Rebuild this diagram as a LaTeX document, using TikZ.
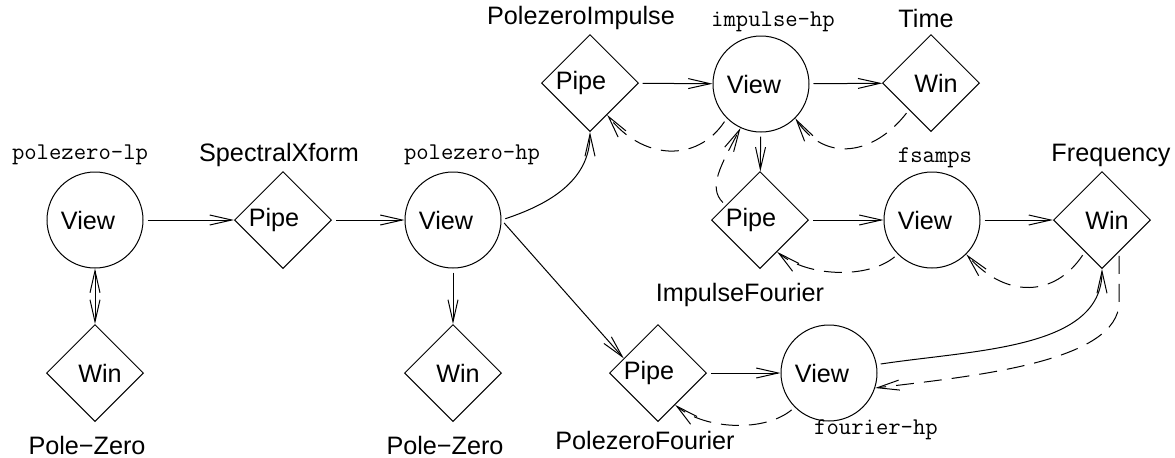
\documentclass[tikz,border=0pt]{standalone}
\usepackage{fontspec}
\setmainfont{Liberation Sans}
\usetikzlibrary{shapes.geometric,arrows.meta,calc}
\tikzset{
  view/.style={circle,draw,minimum size=48pt,inner sep=0pt,font=\fontsize{12.6}{15}\selectfont},
  dia/.style={diamond,draw,minimum width=48.5pt,minimum height=48.5pt,inner sep=0pt,aspect=1,font=\fontsize{12.6}{15}\selectfont},
  lab/.style={inner sep=0pt,font=\fontsize{12.6}{15}\selectfont},
  mlab/.style={inner sep=0pt,font=\ttfamily\fontsize{12}{14}\selectfont},
  conn/.style={-{Straight Barb[length=11pt,width=5pt]},shorten <=2pt},
  bconn/.style={{Straight Barb[length=11pt,width=5pt]}-{Straight Barb[length=11pt,width=5pt]}},
  dconn/.style={conn,dash pattern=on 9pt off 5pt}
}
\newcommand{\pipetxt}{Pipe\hspace*{9pt}}
\newcommand{\viewtxt}{View\hspace*{7pt}}
\newcommand{\wintxt}{\hspace*{5pt}Win}
\begin{document}
\begin{tikzpicture}[x=0.5pt,y=-0.5pt,line width=0.5pt]
\useasboundingbox (0,0) rectangle (1175,457);
% nodes
\node[view] (V1) at (95,220) {\viewtxt};
\node[dia]  (W1) at (95,373) {\wintxt};
\node[dia]  (SX) at (283,220) {\pipetxt};
\node[view] (V2) at (453,220) {\viewtxt};
\node[dia]  (W2) at (453,373) {\wintxt};
\node[dia]  (PI) at (590,83) {\pipetxt};
\node[view] (V3) at (761,84) {\viewtxt};
\node[dia]  (T)  at (931,83) {\wintxt};
\node[dia]  (IF) at (760,220) {\pipetxt};
\node[view] (V4) at (932,220) {\viewtxt};
\node[dia]  (F)  at (1102,220) {\wintxt};
\node[dia]  (PF) at (658,373) {\pipetxt};
\node[view] (V5) at (829,373) {\viewtxt};
% labels
\node[mlab] (l1) at (80,155) {polezero-lp};
\node[lab]  (l2) at (279,155) {SpectralXform};
\node[lab]  (l3) at (87,445) {Pole−Zero};
\node[mlab] (l4) at (472,155) {polezero-hp};
\node[lab]  (l5) at (445,445) {Pole−Zero};
\node[lab]  (l6) at (581,18) {PolezeroImpulse};
\node[mlab] (l7) at (773,22) {impulse-hp};
\node[lab]  (l8) at (926,18) {Time};
\node[mlab] (l9) at (935,158) {fsamps};
\node[lab]  (l10) at (1111,155) {Frequency};
\node[lab]  (l11) at (740,295) {ImpulseFourier};
\node[lab]  (l12) at (645,440) {PolezeroFourier};
\node[mlab] (l13) at (876,430) {fourier-hp};
% helper coordinates
\coordinate (PFa) at ($(PF.west)!0.3!(PF.north)$);
\coordinate (PIa) at ($(PI.south)!0.35!(PI.east)$);
\coordinate (Ta)  at ($(T.west)!0.55!(T.south)$);
\coordinate (IFa) at ($(IF.west)!0.3!(IF.north)$);
\coordinate (IFb) at ($(IF.south)!0.35!(IF.east)$);
\coordinate (Fa)  at ($(F.west)!0.65!(F.south)$);
\coordinate (Fb)  at ($(F.east)!0.65!(F.south)$);
\coordinate (PFb) at ($(PF.south)!0.35!(PF.east)$);
% solid connectors
\draw[conn] (V1) -- (SX);
\draw[bconn] (V1) -- (W1);
\draw[conn] (SX) -- (V2);
\draw[conn] (V2) -- (W2);
\draw[conn] (V2.east) .. controls +(45,-15) and +(0,50) .. (PI.south);
\draw[conn] (V2.east) -- (PFa);
\draw[conn] (PI) -- (V3);
\draw[conn] (V3) -- (T);
\draw[conn] (V3) -- (IF);
\draw[conn] (IF) -- (V4);
\draw[conn] (V4) -- (F);
\draw[conn] (PF) -- (V5);
\draw[conn] (V5.10) .. controls +(100,-15) and +(0,80) .. (F.south);
% dashed connectors
\draw[dconn] (V3.225) .. controls +(-30,45) and +(35,45) .. (PIa);
\draw[dconn] (Ta) .. controls +(-35,45) and +(30,45) .. (V3.-45);
\draw[dconn] (IFa) .. controls +(-18,-18) and +(-20,38) .. (V3.245);
\draw[dconn] (V4.225) .. controls +(-30,25) and +(30,25) .. (IFb);
\draw[dconn] (Fa) .. controls +(-30,45) and +(40,45) .. (V4.-45);
\draw[dconn] (V5.225) .. controls +(-30,25) and +(30,25) .. (PFb);
\draw[dconn] (Fb) -- ++(0,50) .. controls +(0,60) and +(100,-12) .. (V5.-18);
\end{tikzpicture}
\end{document}
